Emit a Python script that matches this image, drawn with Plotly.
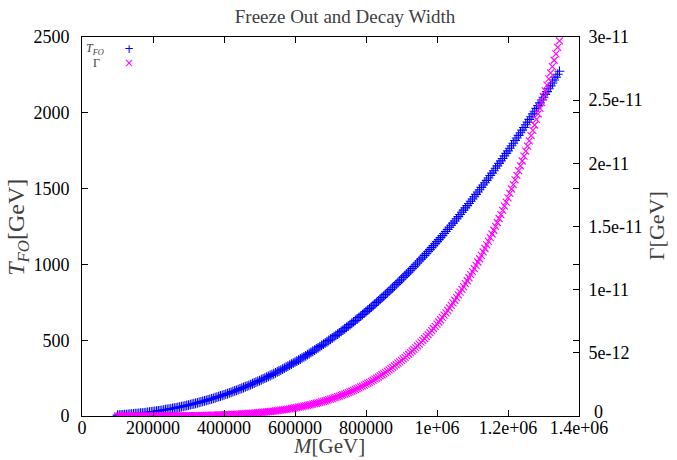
import plotly.graph_objects as go

# Mass values [GeV]
M = [100000, 105000, 110000, 115000, 120000, 125000, 130000, 135000, 140000, 145000,
     150000, 155000, 160000, 165000, 170000, 175000, 180000, 185000, 190000, 195000,
     200000, 205000, 210000, 215000, 220000, 225000, 230000, 235000, 240000, 245000,
     250000, 255000, 260000, 265000, 270000, 275000, 280000, 285000, 290000, 295000,
     300000, 305000, 310000, 315000, 320000, 325000, 330000, 335000, 340000, 345000,
     350000, 355000, 360000, 365000, 370000, 375000, 380000, 385000, 390000, 395000,
     400000, 405000, 410000, 415000, 420000, 425000, 430000, 435000, 440000, 445000,
     450000, 455000, 460000, 465000, 470000, 475000, 480000, 485000, 490000, 495000,
     500000, 505000, 510000, 515000, 520000, 525000, 530000, 535000, 540000, 545000,
     550000, 555000, 560000, 565000, 570000, 575000, 580000, 585000, 590000, 595000,
     600000, 605000, 610000, 615000, 620000, 625000, 630000, 635000, 640000, 645000,
     650000, 655000, 660000, 665000, 670000, 675000, 680000, 685000, 690000, 695000,
     700000, 705000, 710000, 715000, 720000, 725000, 730000, 735000, 740000, 745000,
     750000, 755000, 760000, 765000, 770000, 775000, 780000, 785000, 790000, 795000,
     800000, 805000, 810000, 815000, 820000, 825000, 830000, 835000, 840000, 845000,
     850000, 855000, 860000, 865000, 870000, 875000, 880000, 885000, 890000, 895000,
     900000, 905000, 910000, 915000, 920000, 925000, 930000, 935000, 940000, 945000,
     950000, 955000, 960000, 965000, 970000, 975000, 980000, 985000, 990000, 995000,
     1000000, 1005000, 1010000, 1015000, 1020000, 1025000, 1030000, 1035000, 1040000, 1045000,
     1050000, 1055000, 1060000, 1065000, 1070000, 1075000, 1080000, 1085000, 1090000, 1095000,
     1100000, 1105000, 1110000, 1115000, 1120000, 1125000, 1130000, 1135000, 1140000, 1145000,
     1150000, 1155000, 1160000, 1165000, 1170000, 1175000, 1180000, 1185000, 1190000, 1195000,
     1200000, 1205000, 1210000, 1215000, 1220000, 1225000, 1230000, 1235000, 1240000, 1245000,
     1250000, 1255000, 1260000, 1265000, 1270000, 1275000, 1280000, 1285000, 1290000, 1295000,
     1300000, 1305000, 1310000, 1315000, 1320000, 1325000, 1330000, 1335000, 1340000, 1345000]

# Freeze-out temperature T_FO [GeV]
T_FO = [5.8, 6.4, 7.2, 8.0, 8.8, 9.6, 10.5, 11.5, 12.5, 13.6,
        14.7, 15.8, 17.0, 18.2, 19.5, 20.9, 22.3, 23.7, 25.2, 26.8,
        28.4, 30.0, 31.8, 33.5, 35.4, 37.2, 39.2, 41.1, 43.2, 45.3,
        47.4, 49.6, 51.9, 54.2, 56.6, 59.1, 61.5, 64.1, 66.7, 69.4,
        72.1, 74.9, 77.8, 80.7, 83.6, 86.7, 89.8, 93.0, 96.2, 99.4,
        102.8, 106.2, 109.7, 113.2, 116.8, 120.5, 124.3, 128.1, 131.8, 135.8,
        139.8, 143.8, 147.9, 152.1, 156.4, 160.7, 165.1, 169.4, 174.1, 178.7,
        183.2, 188.0, 192.8, 197.7, 202.4, 207.6, 212.6, 217.8, 222.8, 228.3,
        233.6, 239.0, 244.3, 250.0, 255.6, 261.3, 267.1, 272.7, 278.8, 284.7,
        290.7, 296.9, 302.9, 309.3, 315.6, 322.0, 328.5, 335.1, 341.9, 348.5,
        355.1, 362.0, 368.9, 376.0, 383.2, 390.1, 397.2, 404.8, 412.2, 419.3,
        427.0, 434.6, 442.2, 449.9, 457.7, 465.8, 473.6, 481.7, 489.8, 498.1,
        506.3, 514.6, 523.1, 531.6, 540.2, 548.8, 557.6, 566.4, 575.4, 584.3,
        593.4, 602.6, 611.8, 621.0, 630.4, 639.8, 649.3, 659.0, 668.8, 678.5,
        688.4, 698.3, 708.4, 718.4, 728.5, 738.8, 749.2, 759.7, 770.1, 780.7,
        791.3, 802.0, 813.0, 823.9, 834.7, 846.0, 857.2, 868.2, 879.7, 891.1,
        902.5, 914.2, 925.8, 937.6, 949.3, 961.1, 973.1, 985.3, 997.4, 1009.6,
        1022.0, 1034.6, 1047.0, 1059.6, 1072.0, 1085.0, 1097.7, 1110.8, 1123.6, 1136.9,
        1150.0, 1163.3, 1176.8, 1190.1, 1203.5, 1217.2, 1231.0, 1244.7, 1258.5, 1272.5,
        1286.5, 1300.7, 1315.0, 1329.3, 1343.8, 1358.1, 1372.8, 1387.4, 1402.2, 1417.0,
        1431.8, 1446.7, 1462.1, 1477.4, 1492.4, 1507.8, 1523.3, 1538.7, 1554.4, 1570.1,
        1586.1, 1601.9, 1617.8, 1633.9, 1650.1, 1666.6, 1682.8, 1699.0, 1716.0, 1732.2,
        1749.0, 1766.1, 1782.8, 1799.6, 1817.1, 1833.9, 1851.3, 1868.7, 1886.0, 1903.4,
        1921.0, 1938.8, 1956.7, 1974.4, 1992.7, 2010.7, 2029.2, 2047.4, 2065.5, 2084.2,
        2102.8, 2121.4, 2139.9, 2158.6, 2177.7, 2196.7, 2216.1, 2235.0, 2254.6, 2273.8]

# Decay width Gamma, in units of 1e-11 GeV
Gamma_e11 = [1.29e-5, 1.63e-5, 2.03e-5, 2.51e-5, 3.07e-5, 3.73e-5, 4.49e-5, 5.37e-5, 6.38e-5, 7.54e-5,
             8.86e-5, 1.036e-4, 1.204e-4, 1.393e-4, 1.606e-4, 1.844e-4, 2.108e-4, 2.401e-4, 2.726e-4, 3.083e-4,
             3.476e-4, 3.911e-4, 4.383e-4, 4.903e-4, 5.468e-4, 6.08e-4, 6.75e-4, 7.48e-4, 8.26e-4, 9.11e-4,
             1.003e-3, 1.101e-3, 1.208e-3, 1.322e-3, 1.446e-3, 1.577e-3, 1.717e-3, 1.867e-3, 2.029e-3, 2.200e-3,
             2.383e-3, 2.580e-3, 2.787e-3, 3.007e-3, 3.241e-3, 3.487e-3, 3.751e-3, 4.027e-3, 4.323e-3, 4.631e-3,
             4.958e-3, 5.306e-3, 5.669e-3, 6.050e-3, 6.456e-3, 6.883e-3, 7.331e-3, 7.800e-3, 8.291e-3, 8.812e-3,
             9.357e-3, 9.916e-3, 0.01052, 0.01114, 0.01179, 0.01247, 0.01319, 0.01393, 0.01471, 0.01552,
             0.01637, 0.01724, 0.01818, 0.01913, 0.02013, 0.02117, 0.02223, 0.02337, 0.02454, 0.02575,
             0.02701, 0.02831, 0.02968, 0.03107, 0.03254, 0.03403, 0.03560, 0.03724, 0.03891, 0.04067,
             0.04245, 0.04432, 0.04626, 0.04825, 0.05032, 0.05242, 0.05467, 0.05696, 0.05928, 0.06170,
             0.06422, 0.06678, 0.06943, 0.07219, 0.07499, 0.07789, 0.08091, 0.08405, 0.08721, 0.09050,
             0.09391, 0.09736, 0.10093, 0.10462, 0.10846, 0.11232, 0.11633, 0.12047, 0.12463, 0.12907,
             0.13354, 0.13802, 0.14279, 0.14758, 0.15269, 0.15765, 0.16294, 0.16824, 0.17388, 0.17954,
             0.18519, 0.19121, 0.19743, 0.20345, 0.20985, 0.21645, 0.22327, 0.23007, 0.23708, 0.24430,
             0.25174, 0.25940, 0.26703, 0.27492, 0.28301, 0.29134, 0.29991, 0.30858, 0.31734, 0.32651,
             0.33578, 0.34518, 0.35498, 0.36487, 0.37490, 0.38539, 0.39593, 0.40661, 0.41777, 0.42904,
             0.44038, 0.45225, 0.46425, 0.47653, 0.48889, 0.50162, 0.51463, 0.52803, 0.54151, 0.55527,
             0.56944, 0.58398, 0.59858, 0.61355, 0.62859, 0.64430, 0.66009, 0.67633, 0.69255, 0.70951,
             0.72660, 0.74406, 0.76195, 0.77989, 0.79826, 0.81703, 0.83629, 0.85558, 0.87531, 0.89549,
             0.91614, 0.93680, 0.95841, 0.98012, 1.00223, 1.02432, 1.04752, 1.07061, 1.09431, 1.11843,
             1.14263, 1.16734, 1.19307, 1.21888, 1.24462, 1.27154, 1.29840, 1.32582, 1.35382, 1.38241,
             1.41161, 1.44070, 1.47039, 1.50070, 1.53176, 1.56333, 1.59476, 1.62697, 1.66050, 1.69320,
             1.72723, 1.76212, 1.79682, 1.83202, 1.86903, 1.90488, 1.94238, 1.98043, 2.01842, 2.05714,
             2.09660, 2.13682, 2.17780, 2.21869, 2.26124, 2.30347, 2.34766, 2.39150, 2.43519, 2.48066,
             2.52699, 2.57315, 2.61988, 2.66773, 2.71620, 2.76581, 2.81605, 2.86605, 2.91810, 2.96991]
Gamma = [g * 1e-11 for g in Gamma_e11]

x_tickvals = [0, 200000, 400000, 600000, 800000, 1000000, 1200000, 1400000]
x_ticktext = ["0", "200000", "400000", "600000", "800000", "1e+06", "1.2e+06", "1.4e+06"]
y_tickvals = [0, 500, 1000, 1500, 2000, 2500]
y2_tickvals = [0, 5e-12, 1e-11, 1.5e-11, 2e-11, 2.5e-11, 3e-11]
# the "0" of the right axis is drawn separately, raised above the x labels as in the original
y2_ticktext = ["", "5e-12", "1e-11", "1.5e-11", "2e-11", "2.5e-11", "3e-11"]

FONT = "Liberation Serif, Times New Roman, Times, serif"
GRAY = "#404040"

fig = go.Figure()
fig.add_trace(go.Scatter(
    x=M, y=T_FO, mode="markers", name="T_FO",
    marker=dict(symbol="cross-thin", size=7, line=dict(color="#0000ff", width=1.1)),
))
fig.add_trace(go.Scatter(
    x=M, y=Gamma, mode="markers", name="Gamma", yaxis="y2",
    marker=dict(symbol="x-thin", size=7, line=dict(color="#ff00ff", width=1.1)),
))

axis_common = dict(showline=True, linecolor="black", linewidth=1, ticks="inside",
                   ticklen=6, tickcolor="black", showgrid=False, zeroline=False,
                   automargin=False,
                   tickfont=dict(family=FONT, size=18, color="black"))

fig.update_layout(
    width=677, height=460,
    margin=dict(l=82, r=98, t=37, b=44),
    paper_bgcolor="white", plot_bgcolor="white",
    showlegend=False,
    font=dict(family=FONT, color="black"),
    title=dict(text="Freeze Out and Decay Width", x=0.5096, xanchor="center",
               y=0.965, yanchor="middle", font=dict(family=FONT, size=19, color=GRAY)),
    xaxis=dict(range=[0, 1400000], tickvals=x_tickvals, ticktext=x_ticktext,
               mirror="ticks", ticklabelstandoff=-5, **axis_common),
    yaxis=dict(range=[0, 2500], tickvals=y_tickvals, mirror="ticks",
               ticklabelstandoff=8, **axis_common),
    yaxis2=dict(range=[0, 3e-11], tickvals=y2_tickvals, ticktext=y2_ticktext,
                overlaying="y", side="right", ticklabelstandoff=5, **axis_common),
    annotations=[
        # axis titles
        dict(xref="paper", yref="paper", x=0.497, y=-0.0792, xanchor="center", yanchor="middle",
             text="<i>M</i>[GeV]", showarrow=False,
             font=dict(family=FONT, size=21, color=GRAY)),
        dict(xref="paper", yref="paper", x=-0.129, y=0.499, xanchor="center", yanchor="middle",
             text="<i>T<sub>FO</sub></i>[GeV]", showarrow=False, textangle=-90,
             font=dict(family=FONT, size=24, color=GRAY)),
        dict(xref="paper", yref="paper", x=1.155, y=0.501, xanchor="center", yanchor="middle",
             text="Γ[GeV]", showarrow=False, textangle=-90,
             font=dict(family=FONT, size=22, color=GRAY)),
        # right-axis zero label
        dict(xref="paper", yref="paper", x=1.0262, y=0.0106, xanchor="left", yanchor="middle",
             text="0", showarrow=False, font=dict(family=FONT, size=18, color="black")),
        # key
        dict(xref="paper", yref="paper", x=0.048, y=0.968, xanchor="right", yanchor="middle",
             text="<i>T<sub>FO</sub></i>", showarrow=False,
             font=dict(family=FONT, size=12, color=GRAY)),
        dict(xref="paper", yref="paper", x=0.03, y=0.931, xanchor="center", yanchor="middle",
             text="Γ", showarrow=False, font=dict(family=FONT, size=12, color=GRAY)),
        dict(xref="paper", yref="paper", x=0.0946, y=0.968, xanchor="center", yanchor="middle",
             text="+", showarrow=False, font=dict(family="DejaVu Sans", size=12, color="#0000ff")),
        dict(xref="paper", yref="paper", x=0.0946, y=0.931, xanchor="center", yanchor="middle",
             text="×", showarrow=False, font=dict(family="DejaVu Sans", size=12, color="#ff00ff")),
    ],
)

fig.write_html("out.html", config={"displayModeBar": False},
               post_script="document.body.style.margin='0px';")
